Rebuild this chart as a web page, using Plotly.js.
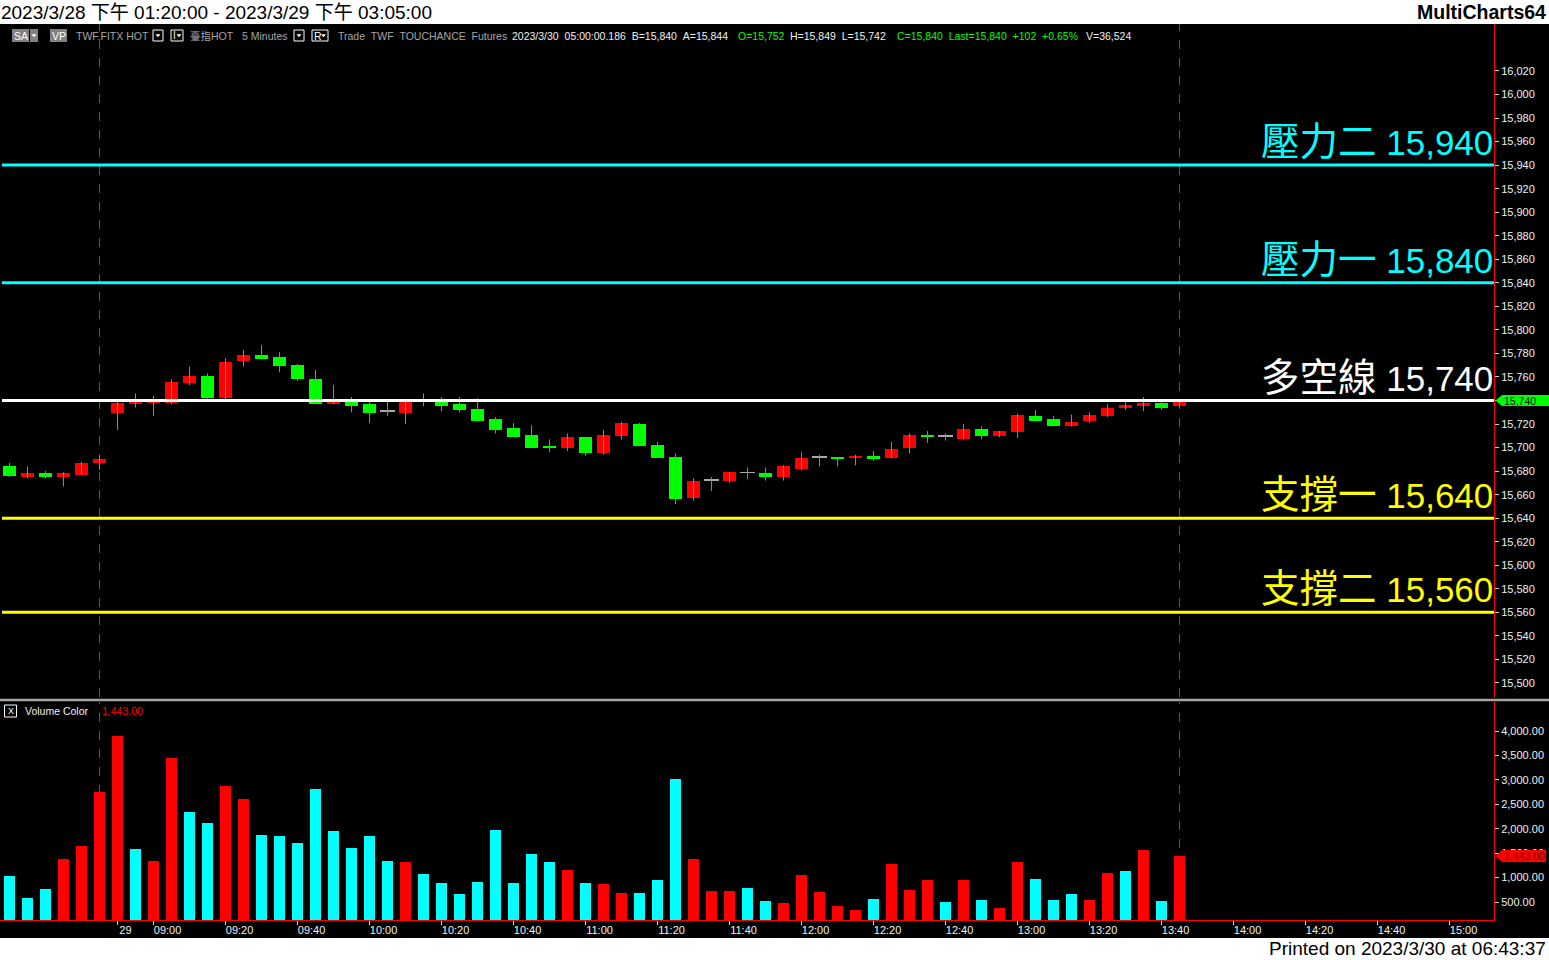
<!DOCTYPE html>
<html><head><meta charset="utf-8">
<script src="https://cdn.plot.ly/plotly-3.0.1.min.js"></script>
<style>html,body{margin:0;padding:0;background:#fff;overflow:hidden}#chart{width:1549px;height:960px}</style>
</head><body><div id="chart"></div>
<script>
// ---------------- data ----------------
const times = ['04:35','04:40','04:45','04:50','04:55','05:00',
 '08:50','08:55','09:00','09:05','09:10','09:15','09:20','09:25','09:30','09:35','09:40','09:45','09:50','09:55',
 '10:00','10:05','10:10','10:15','10:20','10:25','10:30','10:35','10:40','10:45','10:50','10:55',
 '11:00','11:05','11:10','11:15','11:20','11:25','11:30','11:35','11:40','11:45','11:50','11:55',
 '12:00','12:05','12:10','12:15','12:20','12:25','12:30','12:35','12:40','12:45','12:50','12:55',
 '13:00','13:05','13:10','13:15','13:20','13:25','13:30','13:35','13:40','13:45'];
const open  = [15684,15675,15678,15675,15677,15687,15729,15737,15738,15738,15755,15761,15742,15774,15779,15777,15770,15758,15737,15740,15737,15730,15729,15739,15740,15737,15733,15724,15717,15711,15701,15700,15709,15695,15710,15720,15702,15692,15657,15672,15672,15678,15678,15675,15682,15691,15692,15691,15693,15691,15700,15711,15709,15707,15716,15710,15713,15727,15724,15718,15723,15727,15734,15735,15738,15735];
const high  = [15687,15684,15680,15679,15688,15693,15740,15746,15744,15758,15769,15763,15776,15783,15787,15781,15771,15766,15753,15743,15739,15739,15740,15746,15743,15743,15742,15726,15721,15719,15707,15712,15709,15715,15722,15721,15705,15695,15674,15675,15679,15683,15683,15685,15696,15694,15692,15694,15697,15705,15712,15714,15712,15720,15718,15714,15729,15732,15727,15728,15730,15737,15739,15743,15739,15741];
const low   = [15675,15674,15674,15667,15677,15681,15715,15734,15727,15737,15753,15741,15741,15769,15775,15764,15757,15737,15737,15730,15721,15727,15720,15735,15731,15730,15722,15712,15709,15700,15696,15697,15693,15694,15707,15701,15691,15652,15655,15663,15670,15673,15672,15672,15681,15684,15684,15685,15689,15691,15695,15704,15706,15707,15707,15709,15708,15723,15718,15718,15721,15726,15732,15731,15732,15734];
const close = [15676,15678,15675,15678,15687,15690,15738,15740,15740,15756,15761,15742,15773,15779,15775,15769,15758,15737,15740,15735,15729,15730,15740,15739,15735,15732,15723,15715,15709,15700,15700,15709,15695,15711,15721,15701,15691,15656,15672,15672,15679,15678,15675,15684,15691,15691,15690,15693,15690,15699,15711,15709,15709,15716,15710,15714,15728,15723,15718,15722,15728,15734,15736,15738,15734,15740];
const volume = [1032,582,766,1380,1646,2751,3897,1585,1339,3447,2342,2117,2874,2608,1871,1851,1707,2813,1953,1605,1851,1339,1319,1073,889,664,909,1974,889,1482,1319,1155,889,868,684,684,950,3017,1380,725,725,787,520,480,1053,705,418,336,561,1278,746,950,500,950,541,377,1319,971,541,664,541,1094,1134,1564,520,1443];
const volUp = [0,0,0,1,1,1,1,0,1,1,0,0,1,1,0,0,0,0,0,0,0,0,1,0,0,0,0,0,0,0,0,1,0,1,1,0,0,0,1,1,1,0,0,1,1,1,1,1,0,1,1,1,0,1,0,1,1,0,0,0,1,1,0,1,0,1];
const tickTimes = ['08:50','09:00','09:20','09:40','10:00','10:20','10:40','11:00','11:20','11:40','12:00','12:20','12:40','13:00','13:20','13:40','14:00','14:20','14:40','15:00'];
const tickText  = ['29','09:00','09:20','09:40','10:00','10:20','10:40','11:00','11:20','11:40','12:00','12:20','12:40','13:00','13:20','13:40','14:00','14:20','14:40','15:00'];
const sessionEnds = ['05:00','13:45'];
const levelNames  = ['壓力二','壓力一','多空線','支撐一','支撐二'];
const levelPrices = [15940,15840,15740,15640,15560];
const priceTicks = [15500,15520,15540,15560,15580,15600,15620,15640,15660,15680,15700,15720,15740,15760,15780,15800,15820,15840,15860,15880,15900,15920,15940,15960,15980,16000,16020];
const volTicks = [500,1000,1500,2000,2500,3000,3500,4000];

// ---------------- layout helpers ----------------
const W = 1549, H = 960;
const PX = x => x / W, PY = y => 1 - y / H;
const FONT = 'Arial, "Liberation Sans", "Noto Sans CJK TC", sans-serif';
const levelColors = ['#00ffff','#00ffff','#ffffff','#ffff00','#ffff00'];
const xEnd = PX(1494);
const priceDom = [PY(697), PY(24)], volDom = [PY(920), PY(702)];
const priceRange = [15488.1, 16059.9], volRange = [131.6, 4593.5];
const xRange = [-0.53, 82.47];

const idx = times.map((t, i) => i);
const toMin = t => { const [h, m] = t.split(':').map(Number); return h * 60 + m; };
const posOf = t => { const i = times.indexOf(t); if (i >= 0) return i;
  return times.length - 1 + (toMin(t) - toMin(times[times.length - 1])) / 5; };
const tickVals = tickTimes.map(posOf);
// first label ("29") is narrow; pad it so it starts at its tick like the others
const tickLabels = tickText.map(t => t.length < 5 ? t + '\u00a0\u00a0\u00a0\u00a0' : t);

// wicks
const wx = [], wy = [];
idx.forEach(i => { wx.push(i, i, null); wy.push(low[i], high[i], null); });
const bodyBase = idx.map(i => Math.min(open[i], close[i]));
const bodyH = idx.map(i => Math.max(Math.abs(close[i] - open[i]), 1.6));
const bodyCol = idx.map(i => close[i] > open[i] ? '#ff0000' : (close[i] < open[i] ? '#00ff00' : '#a8a8a8'));
const bodyW = idx.map(i => close[i] === open[i] ? 0.8 : 0.71);
const volCol = volUp.map(u => u ? '#ff0000' : '#00ffff');

const traces = [
  {type:'scatter', mode:'lines', x:wx, y:wy, xaxis:'x', yaxis:'y', line:{color:'#8c8c8c', width:1}, hoverinfo:'skip', showlegend:false},
  {type:'bar', x:idx, y:bodyH, base:bodyBase, width:bodyW, xaxis:'x', yaxis:'y', marker:{color:bodyCol, line:{width:0}}, hoverinfo:'skip', showlegend:false},
  {type:'bar', x:idx, y:volume, width:0.61, xaxis:'x2', yaxis:'y2', marker:{color:volCol, line:{width:0}}, hoverinfo:'skip', showlegend:false}
];

const shapes = [];
const annotations = [];
// black chart area
shapes.push({type:'rect', xref:'paper', yref:'paper', x0:0, x1:1, y0:PY(938), y1:PY(24), fillcolor:'#000', line:{width:0}, layer:'below'});
// separator between panes
shapes.push({type:'line', xref:'paper', yref:'paper', x0:0, x1:1, y0:PY(700), y1:PY(700), line:{color:'#a4a4a4', width:2.5}});
// session end dashed lines
sessionEnds.forEach(t => {
  const p = posOf(t);
  shapes.push({type:'line', xref:'x', yref:'paper', x0:p, x1:p, y0:priceDom[0], y1:priceDom[1], line:{color:'#5a5a5a', width:1, dash:'dash'}, layer:'below'});
  shapes.push({type:'line', xref:'x2', yref:'paper', x0:p, x1:p, y0:volDom[0], y1:volDom[1], line:{color:'#5a5a5a', width:1, dash:'dash'}, layer:'below'});
});
// level lines + labels
levelPrices.forEach((p, k) => {
  shapes.push({type:'line', xref:'paper', yref:'y', x0:PX(2), x1:xEnd, y0:p, y1:p, line:{color:levelColors[k], width:3}});
  annotations.push({xref:'paper', yref:'y', x:xEnd, y:p, xanchor:'right', yanchor:'bottom', yshift:1, showarrow:false,
    text: '<span style="font-size:38.5px">' + levelNames[k] + '</span> ' + p.toLocaleString('en-US'),
    font:{family:FONT, size:35, color:levelColors[k]}, borderpad:0});
});

// last price tag
const lastC = close[close.length - 1], lastV = volume[volume.length - 1];
const ppt = (H * (priceDom[1] - priceDom[0])) / (priceRange[1] - priceRange[0]);
const ppv = (H * (volDom[1] - volDom[0])) / (volRange[1] - volRange[0]);
const hp = 5.5 / ppt;
shapes.push({type:'path', xref:'paper', yref:'y', path:`M ${PX(1495.5)},${lastC} L ${PX(1502)},${lastC + hp} L ${PX(1549)},${lastC + hp} L ${PX(1549)},${lastC - hp} L ${PX(1502)},${lastC - hp} Z`, fillcolor:'#00ff00', line:{width:0}});
annotations.push({xref:'paper', yref:'y', x:PX(1503), y:lastC, xanchor:'left', yanchor:'middle', showarrow:false, text:lastC.toLocaleString('en-US'), font:{family:FONT, size:10.5, color:'#000'}, borderpad:0});
const hv = 6 / ppv;
shapes.push({type:'path', xref:'paper', yref:'y2', path:`M ${PX(1495.5)},${lastV} L ${PX(1502)},${lastV + hv} L ${PX(1546)},${lastV + hv} L ${PX(1546)},${lastV - hv} L ${PX(1502)},${lastV - hv} Z`, fillcolor:'#ff0000', line:{width:0}});
annotations.push({xref:'paper', yref:'y2', x:PX(1503), y:lastV, xanchor:'left', yanchor:'middle', showarrow:false, text:lastV.toLocaleString('en-US', {minimumFractionDigits:2}), font:{family:FONT, size:10.5, color:'#7a0000'}, borderpad:0});

// header helpers
function txt(x, y, text, color, size, anchor, extra) {
  annotations.push(Object.assign({xref:'paper', yref:'paper', x:PX(x), y:PY(y), xanchor:anchor || 'left', yanchor:'middle', showarrow:false, text:text, borderpad:0, font:{family:FONT, size:size, color:color}}, extra || {}));
}
function rect(x0, y0, x1, y1, fill, lineCol) {
  shapes.push({type:'rect', xref:'paper', yref:'paper', x0:PX(x0), x1:PX(x1), y0:PY(y1), y1:PY(y0), fillcolor:fill, line:lineCol ? {color:lineCol, width:1} : {width:0}});
}
function tri(cx, cy) {
  shapes.push({type:'path', xref:'paper', yref:'paper', path:`M ${PX(cx-2.5)},${PY(cy-1.2)} L ${PX(cx+2.5)},${PY(cy-1.2)} L ${PX(cx)},${PY(cy+1.8)} Z`, fillcolor:'#fff', line:{width:0}});
}
const NB = '\u00a0\u00a0';
const HY = 35.5;
// header row
rect(12, 29, 29, 42, '#808080'); txt(20.5, HY, 'SA', '#fff', 10.5, 'center');
rect(30, 29, 38, 42, '#808080'); tri(34, HY);
rect(50, 29, 67, 42, '#808080'); txt(58.5, HY, 'VP', '#fff', 10.5, 'center');
txt(75, HY, 'TWF.FITX HOT', '#a6a6a6', 10.5);
rect(153, 30, 163, 41, '#000', '#ffffff'); tri(158, HY);
rect(171, 30, 183, 41, '#000', '#ffffff'); txt(174.5, HY, 'I', '#fff', 10, 'center'); tri(179, HY);
txt(189, HY, '臺指HOT', '#a6a6a6', 10.5);
txt(241, HY, '5 Minutes', '#a6a6a6', 10.5);
rect(294, 30, 304, 41, '#000', '#ffffff'); tri(299, HY);
rect(312, 30, 328, 41, '#000', '#ffffff'); txt(317.5, HY, 'R', '#fff', 10.5, 'center'); tri(323.5, HY);
txt(337, HY, 'Trade' + NB + 'TWF' + NB + 'TOUCHANCE' + NB + 'Futures', '#a6a6a6', 10.5);
txt(511, HY, '2023/3/30' + NB + '05:00:00.186' + NB + 'B=15,840' + NB + 'A=15,844', '#f0f0f0', 10.5);
txt(737, HY, 'O=15,752', '#00ff00', 10.5);
txt(789, HY, 'H=15,849' + NB + 'L=15,742', '#f0f0f0', 10.5);
txt(896, HY, 'C=15,840' + NB + 'Last=15,840' + NB + '+102' + NB + '+0.65%', '#00ff00', 10.5);
txt(1085, HY, 'V=36,524', '#f0f0f0', 10.5);
// volume pane header
rect(4.5, 705, 16.5, 717, '#000', '#ffffff'); txt(10.5, 711, 'X', '#fff', 9, 'center');
txt(24, 711, 'Volume Color', '#f0f0f0', 10.5);
txt(101, 711, lastV.toLocaleString('en-US', {minimumFractionDigits:2}), '#ff0000', 10.5);
// white strips text
txt(1547, 12, '<b>MultiCharts64</b>', '#000', 19.5, 'right');
txt(1547, 948, 'Printed on 2023/3/30 at 06:43:37', '#000', 19, 'right');

const axCommon = {showgrid:false, zeroline:false, fixedrange:true};
const layout = {
  width:W, height:H, autosize:false,
  margin:{l:0, r:0, t:0, b:0, pad:0},
  paper_bgcolor:'#ffffff', plot_bgcolor:'#000000',
  font:{family:FONT, color:'#f0f0f0'},
  barmode:'overlay', bargap:0,
  title:{text:'2023/3/28 下午 01:20:00 - 2023/3/29 下午 03:05:00', x:PX(1), xanchor:'left', y:PY(12), yanchor:'middle', font:{family:FONT, size:19, color:'#000'}},
  xaxis:Object.assign({}, axCommon, {domain:[0, xEnd], range:xRange, anchor:'y', showticklabels:false, ticks:'', showline:false}),
  yaxis:Object.assign({}, axCommon, {domain:priceDom, range:priceRange, anchor:'x', side:'right', tickmode:'array', tickvals:priceTicks,
    tickformat:',d', ticks:'outside', ticklen:4, tickcolor:'#d0d0d0', tickfont:{family:FONT, size:11, color:'#f0f0f0'},
    showline:true, linecolor:'#ff0000', linewidth:1}),
  xaxis2:Object.assign({}, axCommon, {domain:[0, xEnd], range:xRange, anchor:'y2', tickmode:'array', tickvals:tickVals, ticktext:tickLabels,
    ticks:'outside', ticklen:4, tickcolor:'#d0d0d0', tickfont:{family:FONT, size:11, color:'#f0f0f0'}, ticklabelshift:14, ticklabelstandoff:-4,
    showline:true, linecolor:'#ff0000', linewidth:1}),
  yaxis2:Object.assign({}, axCommon, {domain:volDom, range:volRange, anchor:'x2', side:'right', tickmode:'array', tickvals:volTicks,
    tickformat:',.2f', ticks:'outside', ticklen:4, tickcolor:'#d0d0d0', tickfont:{family:FONT, size:11, color:'#f0f0f0'},
    showline:true, linecolor:'#ff0000', linewidth:1}),
  shapes:shapes, annotations:annotations
};
Plotly.newPlot('chart', traces, layout, {displayModeBar:false, staticPlot:true});
</script></body></html>
